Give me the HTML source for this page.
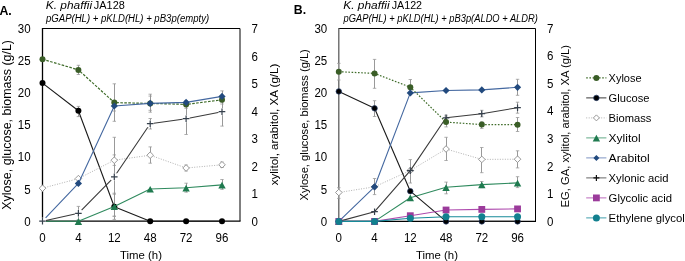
<!DOCTYPE html>
<html><head><meta charset="utf-8"><style>
html,body{margin:0;padding:0;background:#fff;width:685px;height:261px;overflow:hidden}
svg{display:block;font-family:"Liberation Sans", sans-serif;will-change:transform}
</style></head><body>
<svg width="685" height="261" viewBox="0 0 685 261">
<rect width="685" height="261" fill="#fff"/>
<path d="M42.5 28.5H240.0V221.2" stroke="#000" stroke-width="1" fill="none"/>
<path d="M42.5 28.0V221.2" stroke="#000" stroke-width="1.3" fill="none"/>
<path d="M41.9 221.2H240.5" stroke="#000" stroke-width="1.2" fill="none"/>
<path d="M78.50 65.30V74.50" stroke="#939393" stroke-width="0.95" fill="none"/><path d="M76.70 65.30H80.10M76.70 74.50H80.10" stroke="#9a9a9a" stroke-width="0.8" fill="none"/>
<path d="M114.50 83.80V121.30" stroke="#939393" stroke-width="0.95" fill="none"/><path d="M112.60 83.80H116.00M112.60 121.30H116.00" stroke="#9a9a9a" stroke-width="0.8" fill="none"/>
<path d="M150.50 96.10V110.30" stroke="#939393" stroke-width="0.95" fill="none"/><path d="M148.50 96.10H151.90M148.50 110.30H151.90" stroke="#9a9a9a" stroke-width="0.8" fill="none"/>
<path d="M186.50 100.50V108.30" stroke="#939393" stroke-width="0.95" fill="none"/><path d="M184.40 100.50H187.80M184.40 108.30H187.80" stroke="#9a9a9a" stroke-width="0.8" fill="none"/>
<path d="M222.50 95.50V104.00" stroke="#939393" stroke-width="0.95" fill="none"/><path d="M220.30 95.50H223.70M220.30 104.00H223.70" stroke="#9a9a9a" stroke-width="0.8" fill="none"/>
<path d="M78.50 106.40V116.60" stroke="#939393" stroke-width="0.95" fill="none"/><path d="M76.70 106.40H80.10M76.70 116.60H80.10" stroke="#9a9a9a" stroke-width="0.8" fill="none"/>
<path d="M114.50 194.20V219.40" stroke="#939393" stroke-width="0.95" fill="none"/><path d="M112.60 194.20H116.00M112.60 219.40H116.00" stroke="#9a9a9a" stroke-width="0.8" fill="none"/>
<path d="M114.50 154.90V165.40" stroke="#939393" stroke-width="0.95" fill="none"/><path d="M112.60 154.90H116.00M112.60 165.40H116.00" stroke="#9a9a9a" stroke-width="0.8" fill="none"/>
<path d="M150.50 146.90V163.20" stroke="#939393" stroke-width="0.95" fill="none"/><path d="M148.50 146.90H151.90M148.50 163.20H151.90" stroke="#9a9a9a" stroke-width="0.8" fill="none"/>
<path d="M186.50 165.00V171.00" stroke="#939393" stroke-width="0.95" fill="none"/><path d="M184.40 165.00H187.80M184.40 171.00H187.80" stroke="#9a9a9a" stroke-width="0.8" fill="none"/>
<path d="M222.50 162.00V167.50" stroke="#939393" stroke-width="0.95" fill="none"/><path d="M220.30 162.00H223.70M220.30 167.50H223.70" stroke="#9a9a9a" stroke-width="0.8" fill="none"/>
<path d="M114.50 193.20V216.20" stroke="#939393" stroke-width="0.95" fill="none"/><path d="M112.60 193.20H116.00M112.60 216.20H116.00" stroke="#9a9a9a" stroke-width="0.8" fill="none"/>
<path d="M186.50 183.20V192.20" stroke="#939393" stroke-width="0.95" fill="none"/><path d="M184.40 183.20H187.80M184.40 192.20H187.80" stroke="#9a9a9a" stroke-width="0.8" fill="none"/>
<path d="M222.50 179.50V189.40" stroke="#939393" stroke-width="0.95" fill="none"/><path d="M220.30 179.50H223.70M220.30 189.40H223.70" stroke="#9a9a9a" stroke-width="0.8" fill="none"/>
<path d="M114.50 101.00V111.00" stroke="#939393" stroke-width="0.95" fill="none"/><path d="M112.60 101.00H116.00M112.60 111.00H116.00" stroke="#9a9a9a" stroke-width="0.8" fill="none"/>
<path d="M150.50 94.20V112.20" stroke="#939393" stroke-width="0.95" fill="none"/><path d="M148.50 94.20H151.90M148.50 112.20H151.90" stroke="#9a9a9a" stroke-width="0.8" fill="none"/>
<path d="M222.50 90.90V101.90" stroke="#939393" stroke-width="0.95" fill="none"/><path d="M220.30 90.90H223.70M220.30 101.90H223.70" stroke="#9a9a9a" stroke-width="0.8" fill="none"/>
<path d="M78.50 206.40V219.80" stroke="#939393" stroke-width="0.95" fill="none"/><path d="M76.70 206.40H80.10M76.70 219.80H80.10" stroke="#9a9a9a" stroke-width="0.8" fill="none"/>
<path d="M114.50 137.30V216.30" stroke="#939393" stroke-width="0.95" fill="none"/><path d="M112.60 137.30H116.00M112.60 216.30H116.00" stroke="#9a9a9a" stroke-width="0.8" fill="none"/>
<path d="M150.50 118.50V129.00" stroke="#939393" stroke-width="0.95" fill="none"/><path d="M148.50 118.50H151.90M148.50 129.00H151.90" stroke="#9a9a9a" stroke-width="0.8" fill="none"/>
<path d="M186.50 102.90V134.50" stroke="#939393" stroke-width="0.95" fill="none"/><path d="M184.40 102.90H187.80M184.40 134.50H187.80" stroke="#9a9a9a" stroke-width="0.8" fill="none"/>
<path d="M222.50 97.40V126.10" stroke="#939393" stroke-width="0.95" fill="none"/><path d="M220.30 97.40H223.70M220.30 126.10H223.70" stroke="#9a9a9a" stroke-width="0.8" fill="none"/>
<polyline points="42.50,59.20 78.40,69.90 114.30,102.60 150.20,103.40 186.10,104.40 222.00,99.80" fill="none" stroke="#3f6c2a" stroke-width="1.2" stroke-dasharray="2.6,1.4" stroke-linejoin="round"/>
<circle cx="42.50" cy="59.20" r="3.0" fill="#3a5d27"/>
<circle cx="78.40" cy="69.90" r="3.0" fill="#3a5d27"/>
<circle cx="114.30" cy="102.60" r="3.0" fill="#3a5d27"/>
<circle cx="150.20" cy="103.40" r="3.0" fill="#3a5d27"/>
<circle cx="186.10" cy="104.40" r="3.0" fill="#3a5d27"/>
<circle cx="222.00" cy="99.80" r="3.0" fill="#3a5d27"/>
<polyline points="42.50,83.10 78.40,110.80 114.30,206.70 150.20,221.20 186.10,221.20 222.00,221.20" fill="none" stroke="#1a1a1a" stroke-width="1.1" stroke-linejoin="round"/>
<circle cx="42.50" cy="83.10" r="3.0" fill="#000"/>
<circle cx="78.40" cy="110.80" r="3.0" fill="#000"/>
<circle cx="114.30" cy="206.70" r="3.0" fill="#000"/>
<circle cx="150.20" cy="221.20" r="3.0" fill="#000"/>
<circle cx="186.10" cy="221.20" r="3.0" fill="#000"/>
<circle cx="222.00" cy="221.20" r="3.0" fill="#000"/>
<polyline points="42.50,188.20 78.40,178.60 114.30,160.20 150.20,155.20 186.10,168.00 222.00,164.80" fill="none" stroke="#a8a8a8" stroke-width="0.9" stroke-dasharray="1,1.5" stroke-linejoin="round"/>
<path d="M42.50 184.90L45.80 188.20L42.50 191.50L39.20 188.20Z" fill="#fff" stroke="#8c8c8c" stroke-width="0.9"/>
<path d="M78.40 175.30L81.70 178.60L78.40 181.90L75.10 178.60Z" fill="#fff" stroke="#8c8c8c" stroke-width="0.9"/>
<path d="M114.30 156.90L117.60 160.20L114.30 163.50L111.00 160.20Z" fill="#fff" stroke="#8c8c8c" stroke-width="0.9"/>
<path d="M150.20 151.90L153.50 155.20L150.20 158.50L146.90 155.20Z" fill="#fff" stroke="#8c8c8c" stroke-width="0.9"/>
<path d="M186.10 164.70L189.40 168.00L186.10 171.30L182.80 168.00Z" fill="#fff" stroke="#8c8c8c" stroke-width="0.9"/>
<path d="M222.00 161.50L225.30 164.80L222.00 168.10L218.70 164.80Z" fill="#fff" stroke="#8c8c8c" stroke-width="0.9"/>
<polyline points="42.50,221.30 78.40,221.30 114.30,206.50 150.20,189.00 186.10,187.80 222.00,184.90" fill="none" stroke="#2f8a5e" stroke-width="1.1" stroke-linejoin="round"/>
<path d="M78.40 218.20L82.10 224.90L74.70 224.90Z" fill="#1f7a4f"/>
<path d="M114.30 203.40L118.00 210.10L110.60 210.10Z" fill="#1f7a4f"/>
<path d="M150.20 185.90L153.90 192.60L146.50 192.60Z" fill="#1f7a4f"/>
<path d="M186.10 184.70L189.80 191.40L182.40 191.40Z" fill="#1f7a4f"/>
<path d="M222.00 181.80L225.70 188.50L218.30 188.50Z" fill="#1f7a4f"/>
<polyline points="42.50,221.20 78.40,183.40 114.30,106.00 150.20,103.40 186.10,102.40 222.00,96.40" fill="none" stroke="#4468a0" stroke-width="1.1" stroke-linejoin="round"/>
<path d="M78.40 179.80L82.00 183.40L78.40 187.00L74.80 183.40Z" fill="#224a7e"/>
<path d="M114.30 102.40L117.90 106.00L114.30 109.60L110.70 106.00Z" fill="#224a7e"/>
<path d="M150.20 99.80L153.80 103.40L150.20 107.00L146.60 103.40Z" fill="#224a7e"/>
<path d="M186.10 98.80L189.70 102.40L186.10 106.00L182.50 102.40Z" fill="#224a7e"/>
<path d="M222.00 92.80L225.60 96.40L222.00 100.00L218.40 96.40Z" fill="#224a7e"/>
<polyline points="42.50,221.20 78.40,213.30 114.30,176.80 150.20,123.70 186.10,118.70 222.00,111.70" fill="none" stroke="#3a3a3a" stroke-width="1.1" stroke-linejoin="round"/>
<rect x="39.00" y="217.70" width="7" height="7" fill="#fff"/><path d="M39.20 221.20H45.80M42.50 217.90V224.50" stroke="#36404c" stroke-width="1.2" fill="none"/>
<rect x="74.90" y="209.80" width="7" height="7" fill="#fff"/><path d="M75.10 213.30H81.70M78.40 210.00V216.60" stroke="#36404c" stroke-width="1.2" fill="none"/>
<rect x="110.80" y="173.30" width="7" height="7" fill="#fff"/><path d="M111.00 176.80H117.60M114.30 173.50V180.10" stroke="#36404c" stroke-width="1.2" fill="none"/>
<rect x="146.70" y="120.20" width="7" height="7" fill="#fff"/><path d="M146.90 123.70H153.50M150.20 120.40V127.00" stroke="#36404c" stroke-width="1.2" fill="none"/>
<rect x="182.60" y="115.20" width="7" height="7" fill="#fff"/><path d="M182.80 118.70H189.40M186.10 115.40V122.00" stroke="#36404c" stroke-width="1.2" fill="none"/>
<rect x="218.50" y="108.20" width="7" height="7" fill="#fff"/><path d="M218.70 111.70H225.30M222.00 108.40V115.00" stroke="#36404c" stroke-width="1.2" fill="none"/>
<path d="M338.8 28.5H535.5V221.4" stroke="#000" stroke-width="1" fill="none"/>
<path d="M338.8 28.0V221.4" stroke="#5f5f5f" stroke-width="1.3" fill="none"/>
<path d="M338.2 221.4H536.0" stroke="#000" stroke-width="1.2" fill="none"/>
<path d="M338.50 187.70V198.40" stroke="#939393" stroke-width="0.95" fill="none"/><path d="M337.10 187.70H340.50M337.10 198.40H340.50" stroke="#9a9a9a" stroke-width="0.8" fill="none"/>
<path d="M374.50 178.50V194.60" stroke="#939393" stroke-width="0.95" fill="none"/><path d="M372.85 178.50H376.25M372.85 194.60H376.25" stroke="#9a9a9a" stroke-width="0.8" fill="none"/>
<path d="M446.50 137.30V160.50" stroke="#939393" stroke-width="0.95" fill="none"/><path d="M444.35 137.30H447.75M444.35 160.50H447.75" stroke="#9a9a9a" stroke-width="0.8" fill="none"/>
<path d="M481.50 147.50V172.70" stroke="#939393" stroke-width="0.95" fill="none"/><path d="M480.10 147.50H483.50M480.10 172.70H483.50" stroke="#9a9a9a" stroke-width="0.8" fill="none"/>
<path d="M517.50 150.80V167.90" stroke="#939393" stroke-width="0.95" fill="none"/><path d="M515.85 150.80H519.25M515.85 167.90H519.25" stroke="#9a9a9a" stroke-width="0.8" fill="none"/>
<path d="M446.50 182.10V193.80" stroke="#939393" stroke-width="0.95" fill="none"/><path d="M444.35 182.10H447.75M444.35 193.80H447.75" stroke="#9a9a9a" stroke-width="0.8" fill="none"/>
<path d="M481.50 181.50V187.70" stroke="#939393" stroke-width="0.95" fill="none"/><path d="M480.10 181.50H483.50M480.10 187.70H483.50" stroke="#9a9a9a" stroke-width="0.8" fill="none"/>
<path d="M517.50 176.70V187.60" stroke="#939393" stroke-width="0.95" fill="none"/><path d="M515.85 176.70H519.25M515.85 187.60H519.25" stroke="#9a9a9a" stroke-width="0.8" fill="none"/>
<path d="M374.50 100.70V116.50" stroke="#939393" stroke-width="0.95" fill="none"/><path d="M372.85 100.70H376.25M372.85 116.50H376.25" stroke="#9a9a9a" stroke-width="0.8" fill="none"/>
<path d="M517.50 79.30V95.30" stroke="#939393" stroke-width="0.95" fill="none"/><path d="M515.85 79.30H519.25M515.85 95.30H519.25" stroke="#9a9a9a" stroke-width="0.8" fill="none"/>
<path d="M410.50 159.60V183.00" stroke="#939393" stroke-width="0.95" fill="none"/><path d="M408.60 159.60H412.00M408.60 183.00H412.00" stroke="#9a9a9a" stroke-width="0.8" fill="none"/>
<path d="M446.50 115.20V120.40" stroke="#939393" stroke-width="0.95" fill="none"/><path d="M444.35 115.20H447.75M444.35 120.40H447.75" stroke="#9a9a9a" stroke-width="0.8" fill="none"/>
<path d="M481.50 110.30V116.90" stroke="#939393" stroke-width="0.95" fill="none"/><path d="M480.10 110.30H483.50M480.10 116.90H483.50" stroke="#9a9a9a" stroke-width="0.8" fill="none"/>
<path d="M517.50 102.20V113.20" stroke="#939393" stroke-width="0.95" fill="none"/><path d="M515.85 102.20H519.25M515.85 113.20H519.25" stroke="#9a9a9a" stroke-width="0.8" fill="none"/>
<path d="M338.50 63.40V80.00" stroke="#939393" stroke-width="0.95" fill="none"/><path d="M337.10 63.40H340.50M337.10 80.00H340.50" stroke="#9a9a9a" stroke-width="0.8" fill="none"/>
<path d="M374.50 59.40V88.30" stroke="#939393" stroke-width="0.95" fill="none"/><path d="M372.85 59.40H376.25M372.85 88.30H376.25" stroke="#9a9a9a" stroke-width="0.8" fill="none"/>
<path d="M410.50 79.50V94.80" stroke="#939393" stroke-width="0.95" fill="none"/><path d="M408.60 79.50H412.00M408.60 94.80H412.00" stroke="#9a9a9a" stroke-width="0.8" fill="none"/>
<path d="M446.50 117.00V126.90" stroke="#939393" stroke-width="0.95" fill="none"/><path d="M444.35 117.00H447.75M444.35 126.90H447.75" stroke="#9a9a9a" stroke-width="0.8" fill="none"/>
<path d="M481.50 121.80V128.40" stroke="#939393" stroke-width="0.95" fill="none"/><path d="M480.10 121.80H483.50M480.10 128.40H483.50" stroke="#9a9a9a" stroke-width="0.8" fill="none"/>
<path d="M517.50 117.50V131.50" stroke="#939393" stroke-width="0.95" fill="none"/><path d="M515.85 117.50H519.25M515.85 131.50H519.25" stroke="#9a9a9a" stroke-width="0.8" fill="none"/>
<polyline points="338.80,192.50 374.55,186.80 410.30,170.50 446.05,149.00 481.80,159.40 517.55,159.20" fill="none" stroke="#a8a8a8" stroke-width="0.9" stroke-dasharray="1,1.5" stroke-linejoin="round"/>
<path d="M338.80 189.20L342.10 192.50L338.80 195.80L335.50 192.50Z" fill="#fff" stroke="#8c8c8c" stroke-width="0.9"/>
<path d="M374.55 183.50L377.85 186.80L374.55 190.10L371.25 186.80Z" fill="#fff" stroke="#8c8c8c" stroke-width="0.9"/>
<path d="M410.30 167.20L413.60 170.50L410.30 173.80L407.00 170.50Z" fill="#fff" stroke="#8c8c8c" stroke-width="0.9"/>
<path d="M446.05 145.70L449.35 149.00L446.05 152.30L442.75 149.00Z" fill="#fff" stroke="#8c8c8c" stroke-width="0.9"/>
<path d="M481.80 156.10L485.10 159.40L481.80 162.70L478.50 159.40Z" fill="#fff" stroke="#8c8c8c" stroke-width="0.9"/>
<path d="M517.55 155.90L520.85 159.20L517.55 162.50L514.25 159.20Z" fill="#fff" stroke="#8c8c8c" stroke-width="0.9"/>
<polyline points="338.80,221.40 374.55,221.40 410.30,197.70 446.05,187.30 481.80,184.60 517.55,182.90" fill="none" stroke="#2f8a5e" stroke-width="1.1" stroke-linejoin="round"/>
<polyline points="338.80,91.40 374.55,108.30 410.30,191.20 446.05,221.40 481.80,221.40 517.55,221.40" fill="none" stroke="#1a1a1a" stroke-width="1.1" stroke-linejoin="round"/>
<polyline points="338.80,221.40 374.55,186.80 410.30,92.90 446.05,90.50 481.80,89.90 517.55,87.30" fill="none" stroke="#4468a0" stroke-width="1.1" stroke-linejoin="round"/>
<polyline points="338.80,221.40 374.55,211.70 410.30,170.60 446.05,117.80 481.80,113.70 517.55,107.70" fill="none" stroke="#3a3a3a" stroke-width="1.1" stroke-linejoin="round"/>
<polyline points="338.80,221.40 374.55,221.40 410.30,215.70 446.05,210.00 481.80,209.40 517.55,208.90" fill="none" stroke="#ae4aae" stroke-width="1.1" stroke-linejoin="round"/>
<polyline points="338.80,221.40 374.55,221.40 410.30,218.30 446.05,216.70 481.80,216.70 517.55,216.70" fill="none" stroke="#178a99" stroke-width="1.1" stroke-linejoin="round"/>
<polyline points="338.80,71.70 374.55,73.40 410.30,87.20 446.05,122.10 481.80,124.60 517.55,124.70" fill="none" stroke="#3f6c2a" stroke-width="1.2" stroke-dasharray="1.6,1.6" stroke-linejoin="round"/>
<circle cx="338.80" cy="91.40" r="2.75" fill="#000" stroke="#233a66" stroke-width="0.7"/>
<circle cx="374.55" cy="108.30" r="2.75" fill="#000" stroke="#233a66" stroke-width="0.7"/>
<circle cx="410.30" cy="191.20" r="2.75" fill="#000" stroke="#233a66" stroke-width="0.7"/>
<circle cx="446.05" cy="221.40" r="2.75" fill="#000" stroke="#233a66" stroke-width="0.7"/>
<circle cx="481.80" cy="221.40" r="2.75" fill="#000" stroke="#233a66" stroke-width="0.7"/>
<circle cx="517.55" cy="221.40" r="2.75" fill="#000" stroke="#233a66" stroke-width="0.7"/>
<path d="M338.80 218.30L342.50 225.00L335.10 225.00Z" fill="#1f7a4f"/>
<path d="M374.55 218.30L378.25 225.00L370.85 225.00Z" fill="#1f7a4f"/>
<path d="M410.30 194.60L414.00 201.30L406.60 201.30Z" fill="#1f7a4f"/>
<path d="M446.05 184.20L449.75 190.90L442.35 190.90Z" fill="#1f7a4f"/>
<path d="M481.80 181.50L485.50 188.20L478.10 188.20Z" fill="#1f7a4f"/>
<path d="M517.55 179.80L521.25 186.50L513.85 186.50Z" fill="#1f7a4f"/>
<path d="M335.50 221.40H342.10M338.80 218.10V224.70" stroke="#36404c" stroke-width="1.2" fill="none"/>
<path d="M371.25 211.70H377.85M374.55 208.40V215.00" stroke="#36404c" stroke-width="1.2" fill="none"/>
<path d="M407.00 170.60H413.60M410.30 167.30V173.90" stroke="#36404c" stroke-width="1.2" fill="none"/>
<path d="M442.75 117.80H449.35M446.05 114.50V121.10" stroke="#36404c" stroke-width="1.2" fill="none"/>
<path d="M478.50 113.70H485.10M481.80 110.40V117.00" stroke="#36404c" stroke-width="1.2" fill="none"/>
<path d="M514.25 107.70H520.85M517.55 104.40V111.00" stroke="#36404c" stroke-width="1.2" fill="none"/>
<circle cx="338.80" cy="71.70" r="3.0" fill="#3a5d27"/>
<circle cx="374.55" cy="73.40" r="3.0" fill="#3a5d27"/>
<circle cx="410.30" cy="87.20" r="3.0" fill="#3a5d27"/>
<circle cx="446.05" cy="122.10" r="3.0" fill="#3a5d27"/>
<circle cx="481.80" cy="124.60" r="3.0" fill="#3a5d27"/>
<circle cx="517.55" cy="124.70" r="3.0" fill="#3a5d27"/>
<path d="M338.80 217.80L342.40 221.40L338.80 225.00L335.20 221.40Z" fill="#224a7e"/>
<path d="M374.55 183.20L378.15 186.80L374.55 190.40L370.95 186.80Z" fill="#224a7e"/>
<path d="M410.30 89.30L413.90 92.90L410.30 96.50L406.70 92.90Z" fill="#224a7e"/>
<path d="M446.05 86.90L449.65 90.50L446.05 94.10L442.45 90.50Z" fill="#224a7e"/>
<path d="M481.80 86.30L485.40 89.90L481.80 93.50L478.20 89.90Z" fill="#224a7e"/>
<path d="M517.55 83.70L521.15 87.30L517.55 90.90L513.95 87.30Z" fill="#224a7e"/>
<rect x="335.40" y="218.00" width="6.80" height="6.80" fill="#9b3b9b"/>
<rect x="371.15" y="218.00" width="6.80" height="6.80" fill="#9b3b9b"/>
<rect x="406.90" y="212.30" width="6.80" height="6.80" fill="#9b3b9b"/>
<rect x="442.65" y="206.60" width="6.80" height="6.80" fill="#9b3b9b"/>
<rect x="478.40" y="206.00" width="6.80" height="6.80" fill="#9b3b9b"/>
<rect x="514.15" y="205.50" width="6.80" height="6.80" fill="#9b3b9b"/>
<circle cx="338.80" cy="221.40" r="3.5" fill="#12808f"/>
<circle cx="374.55" cy="221.40" r="3.5" fill="#12808f"/>
<circle cx="410.30" cy="218.30" r="3.5" fill="#12808f"/>
<circle cx="446.05" cy="216.70" r="3.5" fill="#12808f"/>
<circle cx="481.80" cy="216.70" r="3.5" fill="#12808f"/>
<circle cx="517.55" cy="216.70" r="3.5" fill="#12808f"/>
<text x="0" y="0" font-size="12" text-anchor="end" transform="translate(30.6 225.7) scale(0.96 1)">0</text>
<text x="0" y="0" font-size="12" text-anchor="end" transform="translate(327.2 225.7) scale(0.96 1)">0</text>
<text x="0" y="0" font-size="12" text-anchor="end" transform="translate(30.6 193.55) scale(0.96 1)">5</text>
<text x="0" y="0" font-size="12" text-anchor="end" transform="translate(327.2 193.55) scale(0.96 1)">5</text>
<text x="0" y="0" font-size="12" text-anchor="end" transform="translate(30.6 161.4) scale(0.96 1)">10</text>
<text x="0" y="0" font-size="12" text-anchor="end" transform="translate(327.2 161.4) scale(0.96 1)">10</text>
<text x="0" y="0" font-size="12" text-anchor="end" transform="translate(30.6 129.25) scale(0.96 1)">15</text>
<text x="0" y="0" font-size="12" text-anchor="end" transform="translate(327.2 129.25) scale(0.96 1)">15</text>
<text x="0" y="0" font-size="12" text-anchor="end" transform="translate(30.6 97.1) scale(0.96 1)">20</text>
<text x="0" y="0" font-size="12" text-anchor="end" transform="translate(327.2 97.1) scale(0.96 1)">20</text>
<text x="0" y="0" font-size="12" text-anchor="end" transform="translate(30.6 64.95) scale(0.96 1)">25</text>
<text x="0" y="0" font-size="12" text-anchor="end" transform="translate(327.2 64.95) scale(0.96 1)">25</text>
<text x="0" y="0" font-size="12" text-anchor="end" transform="translate(30.6 32.8) scale(0.96 1)">30</text>
<text x="0" y="0" font-size="12" text-anchor="end" transform="translate(327.2 32.8) scale(0.96 1)">30</text>
<text x="0" y="0" font-size="12" transform="translate(251.6 225.9) scale(0.96 1)">0</text>
<text x="0" y="0" font-size="12" transform="translate(546.9 225.7) scale(0.96 1)">0</text>
<text x="0" y="0" font-size="12" transform="translate(251.6 198.35) scale(0.96 1)">1</text>
<text x="0" y="0" font-size="12" transform="translate(546.9 198.11) scale(0.96 1)">1</text>
<text x="0" y="0" font-size="12" transform="translate(251.6 170.8) scale(0.96 1)">2</text>
<text x="0" y="0" font-size="12" transform="translate(546.9 170.52) scale(0.96 1)">2</text>
<text x="0" y="0" font-size="12" transform="translate(251.6 143.25) scale(0.96 1)">3</text>
<text x="0" y="0" font-size="12" transform="translate(546.9 142.93) scale(0.96 1)">3</text>
<text x="0" y="0" font-size="12" transform="translate(251.6 115.7) scale(0.96 1)">4</text>
<text x="0" y="0" font-size="12" transform="translate(546.9 115.34) scale(0.96 1)">4</text>
<text x="0" y="0" font-size="12" transform="translate(251.6 88.15) scale(0.96 1)">5</text>
<text x="0" y="0" font-size="12" transform="translate(546.9 87.75) scale(0.96 1)">5</text>
<text x="0" y="0" font-size="12" transform="translate(251.6 60.6) scale(0.96 1)">6</text>
<text x="0" y="0" font-size="12" transform="translate(546.9 60.16) scale(0.96 1)">6</text>
<text x="0" y="0" font-size="12" transform="translate(251.6 33.05) scale(0.96 1)">7</text>
<text x="0" y="0" font-size="12" transform="translate(546.9 32.57) scale(0.96 1)">7</text>
<text x="0" y="0" font-size="12" text-anchor="middle" transform="translate(42.5 241.6) scale(0.96 1)">0</text>
<text x="0" y="0" font-size="12" text-anchor="middle" transform="translate(78.4 241.6) scale(0.96 1)">4</text>
<text x="0" y="0" font-size="12" text-anchor="middle" transform="translate(114.3 241.6) scale(0.96 1)">12</text>
<text x="0" y="0" font-size="12" text-anchor="middle" transform="translate(150.2 241.6) scale(0.96 1)">48</text>
<text x="0" y="0" font-size="12" text-anchor="middle" transform="translate(186.1 241.6) scale(0.96 1)">72</text>
<text x="0" y="0" font-size="12" text-anchor="middle" transform="translate(222.0 241.6) scale(0.96 1)">96</text>
<text x="0" y="0" font-size="12" text-anchor="middle" transform="translate(338.8 241.6) scale(0.96 1)">0</text>
<text x="0" y="0" font-size="12" text-anchor="middle" transform="translate(374.55 241.6) scale(0.96 1)">4</text>
<text x="0" y="0" font-size="12" text-anchor="middle" transform="translate(410.3 241.6) scale(0.96 1)">12</text>
<text x="0" y="0" font-size="12" text-anchor="middle" transform="translate(446.05 241.6) scale(0.96 1)">48</text>
<text x="0" y="0" font-size="12" text-anchor="middle" transform="translate(481.8 241.6) scale(0.96 1)">72</text>
<text x="0" y="0" font-size="12" text-anchor="middle" transform="translate(517.55 241.6) scale(0.96 1)">96</text>
<text x="141.0" y="258.9" font-size="11.3" text-anchor="middle" textLength="42.0" lengthAdjust="spacingAndGlyphs">Time (h)</text>
<text x="437.0" y="258.9" font-size="11.3" text-anchor="middle" textLength="42.0" lengthAdjust="spacingAndGlyphs">Time (h)</text>
<text x="11.5" y="209.7" font-size="12" transform="rotate(-90 11.5 209.7)" textLength="169.7" lengthAdjust="spacingAndGlyphs">Xylose, glucose, biomass (g/L)</text>
<text x="308.2" y="200.5" font-size="10.5" transform="rotate(-90 308.2 200.5)" textLength="151.3" lengthAdjust="spacingAndGlyphs">Xylose, glucose, biomass (g/L)</text>
<text x="278.0" y="185.3" font-size="10.3" transform="rotate(-90 278.0 185.3)" textLength="121.7" lengthAdjust="spacingAndGlyphs">xylitol, arabitol, XA (g/L)</text>
<text x="569.2" y="207.4" font-size="10" transform="rotate(-90 569.2 207.4)" textLength="162.4" lengthAdjust="spacingAndGlyphs">EG, GA, xylitol, arabitol, XA (g/L)</text>
<text x="-0.6" y="14.6" font-size="12.3" font-weight="bold">A.</text>
<text x="293.8" y="13.8" font-size="12.3" font-weight="bold">B.</text>
<text x="45.8" y="8.5" font-size="10" font-style="italic" textLength="46.3" lengthAdjust="spacingAndGlyphs">K. phaffii</text>
<text x="93.8" y="8.5" font-size="10" textLength="31.0" lengthAdjust="spacingAndGlyphs">JA128</text>
<text x="343.3" y="8.5" font-size="10" font-style="italic" textLength="46.3" lengthAdjust="spacingAndGlyphs">K. phaffii</text>
<text x="391.7" y="8.5" font-size="10" textLength="30.4" lengthAdjust="spacingAndGlyphs">JA122</text>
<text x="46.0" y="22.3" font-size="10" font-style="italic" textLength="163.1" lengthAdjust="spacingAndGlyphs">pGAP(HL) + pKLD(HL) + pB3p(empty)</text>
<text x="343.6" y="22.3" font-size="10" font-style="italic" textLength="194.3" lengthAdjust="spacingAndGlyphs">pGAP(HL) + pKLD(HL) + pB3p(ALDO + ALDR)</text>
<path d="M586.2 77.9H606.4" stroke="#3f6c2a" stroke-width="1.2" stroke-dasharray="1.6,1.6" fill="none"/>
<circle cx="596.40" cy="77.90" r="3.0" fill="#3a5d27"/>
<text x="608.6" y="81.8" font-size="10.6" textLength="33.0" lengthAdjust="spacingAndGlyphs">Xylose</text>
<path d="M586.2 97.9H606.4" stroke="#222" stroke-width="0.9" fill="none"/>
<circle cx="596.40" cy="97.90" r="2.75" fill="#000" stroke="#233a66" stroke-width="0.7"/>
<text x="608.6" y="101.8" font-size="10.6" textLength="40.8" lengthAdjust="spacingAndGlyphs">Glucose</text>
<path d="M586.2 117.9H606.4" stroke="#a8a8a8" stroke-width="0.9" stroke-dasharray="1,1.5" fill="none"/>
<path d="M596.40 114.90L599.40 117.90L596.40 120.90L593.40 117.90Z" fill="#fff" stroke="#8c8c8c" stroke-width="0.9"/>
<text x="608.6" y="121.8" font-size="10.6" textLength="42.8" lengthAdjust="spacingAndGlyphs">Biomass</text>
<path d="M586.2 137.9H606.4" stroke="#4f9f78" stroke-width="0.9" fill="none"/>
<path d="M596.40 134.80L600.10 141.50L592.70 141.50Z" fill="#1f7a4f"/>
<text x="608.6" y="141.8" font-size="10.6" textLength="32.0" lengthAdjust="spacingAndGlyphs">Xylitol</text>
<path d="M586.2 157.9H606.4" stroke="#7088bb" stroke-width="0.9" fill="none"/>
<path d="M596.40 154.90L599.40 157.90L596.40 160.90L593.40 157.90Z" fill="#224a7e"/>
<text x="608.6" y="161.8" font-size="10.6" textLength="41.2" lengthAdjust="spacingAndGlyphs">Arabitol</text>
<path d="M586.2 177.9H606.4" stroke="#555" stroke-width="0.9" fill="none"/>
<path d="M593.40 177.90H599.40M596.40 174.90V180.90" stroke="#111" stroke-width="1.2" fill="none"/>
<text x="608.6" y="181.8" font-size="10.6" textLength="60.0" lengthAdjust="spacingAndGlyphs">Xylonic acid</text>
<path d="M586.2 197.9H606.4" stroke="#b458b4" stroke-width="0.9" fill="none"/>
<rect x="593.00" y="194.50" width="6.80" height="6.80" fill="#9b3b9b"/>
<text x="608.6" y="201.8" font-size="10.6" textLength="63.5" lengthAdjust="spacingAndGlyphs">Glycolic acid</text>
<path d="M586.2 217.9H606.4" stroke="#2a93a3" stroke-width="0.9" fill="none"/>
<circle cx="596.40" cy="217.90" r="3.5" fill="#12808f"/>
<text x="608.6" y="221.8" font-size="10.6" textLength="76.2" lengthAdjust="spacingAndGlyphs">Ethylene glycol</text>
</svg>
</body></html>
